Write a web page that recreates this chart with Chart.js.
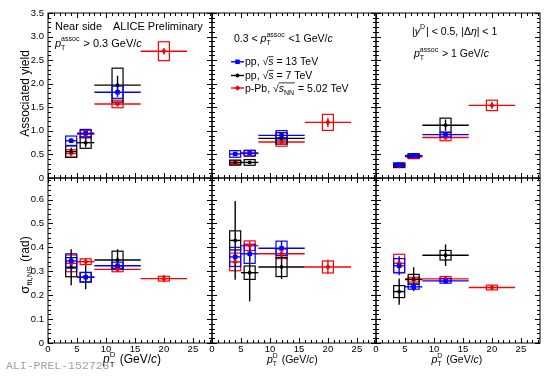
<!DOCTYPE html>
<html>
<head>
<meta charset="utf-8">
<script src="https://cdn.jsdelivr.net/npm/chart.js@4.4.1/dist/chart.umd.min.js"></script>
<style>
  html, body { margin: 0; padding: 0; background: #fff; }
</style>
</head>
<body>
<canvas id="chart" width="550" height="377"></canvas>
<script>
// D-meson pT bins (GeV/c)
const ptCenters = [4, 6.5, 12, 20];
const ptLow = [3, 5, 8, 16];
const ptHigh = [5, 8, 16, 24];
const boxHalfWidth = 0.95;

// one row per pT(assoc) range: > 0.3, 0.3-1, > 1 GeV/c
const yieldPp13 = [[0.79, 0.95, 1.82], [0.51, 0.53, 0.905], [0.28, 0.475, 0.92]];
const yieldPp13Stat = [[0.05, 0.05, 0.1], [0.04, 0.04, 0.06], [0.02, 0.02, 0.04]];
const yieldPp13Syst = [[0.1, 0.08, 0.13], [0.07, 0.06, 0.1], [0.04, 0.04, 0.05]];

const yieldPp7 = [[0.56, 0.75, 1.97], [0.33, 0.33, 0.84], [0.27, 0.47, 1.12]];
const yieldPp7Stat = [[0.08, 0.1, 0.2], [0.03, 0.03, 0.06], [0.02, 0.03, 0.12]];
const yieldPp7Syst = [[0.12, 0.12, 0.36], [0.05, 0.06, 0.12], [0.04, 0.04, 0.15]];

const yieldPPb = [[0.52, 0.93, 1.57, 2.69], [0.32, 0.52, 0.765, 1.18], [0.26, 0.45, 0.86, 1.54]];
const yieldPPbStat = [[0.04, 0.05, 0.05, 0.07], [0.02, 0.03, 0.05, 0.1], [0.02, 0.02, 0.04, 0.07]];
const yieldPPbSyst = [[0.08, 0.08, 0.08, 0.2], [0.05, 0.06, 0.09, 0.17], [0.04, 0.04, 0.07, 0.11]];

const sigmaPp13 = [[0.343, 0.275, 0.323], [0.36, 0.373, 0.396], [0.323, 0.235, 0.26]];
const sigmaPp13Stat = [[0.02, 0.015, 0.015], [0.03, 0.03, 0.03], [0.04, 0.01, 0.01]];
const sigmaPp13Syst = [[0.03, 0.02, 0.015], [0.04, 0.04, 0.03], [0.03, 0.01, 0.01]];

const sigmaPp7 = [[0.317, 0.275, 0.347], [0.429, 0.294, 0.318], [0.215, 0.267, 0.367]];
const sigmaPp7Stat = [[0.075, 0.05, 0.045], [0.165, 0.12, 0.05], [0.055, 0.05, 0.045]];
const sigmaPp7Syst = [[0.04, 0.02, 0.037], [0.04, 0.028, 0.04], [0.025, 0.02, 0.02]];

const sigmaPPb = [[0.333, 0.34, 0.308, 0.269], [0.339, 0.407, 0.373, 0.318], [0.333, 0.265, 0.268, 0.232]];
const sigmaPPbStat = [[0.02, 0.015, 0.01, 0.015], [0.02, 0.02, 0.02, 0.03], [0.02, 0.01, 0.01, 0.01]];
const sigmaPPbSyst = [[0.035, 0.012, 0.01, 0.01], [0.037, 0.02, 0.02, 0.025], [0.038, 0.01, 0.01, 0.01]];

const series = [
  { color: "#0000ff", style: "rect", radius: 3.2,
    yield: [yieldPp13, yieldPp13Stat, yieldPp13Syst], sigma: [sigmaPp13, sigmaPp13Stat, sigmaPp13Syst] },
  { color: "#000000", style: "circle", radius: 1.9,
    yield: [yieldPp7, yieldPp7Stat, yieldPp7Syst], sigma: [sigmaPp7, sigmaPp7Stat, sigmaPp7Syst] },
  { color: "#ff0000", style: "rectRot", radius: 2.8,
    yield: [yieldPPb, yieldPPbStat, yieldPPbSyst], sigma: [sigmaPPb, sigmaPPbStat, sigmaPPbSyst] }
];

const FONT = '"Liberation Sans", Arial, sans-serif';

const datasets = [];
for (let p = 0; p < 3; p++) {
  for (const row of ["yield", "sigma"]) {
    for (const s of series) {
      const [vals, stat, syst] = s[row];
      datasets.push({
        xAxisID: "x" + (p + 1),
        yAxisID: row === "yield" ? "yTop" : "yBot",
        data: vals[p].map((y, i) => ({ x: ptCenters[i], y })),
        stat: stat[p], syst: syst[p], color: s.color,
        pointStyle: s.style, pointRadius: s.radius,
        backgroundColor: s.color, borderColor: s.color, borderWidth: 0,
        showLine: false
      });
    }
  }
}

function line(ctx, x0, y0, x1, y1) {
  ctx.beginPath(); ctx.moveTo(x0, y0); ctx.lineTo(x1, y1); ctx.stroke();
}

// draw text made of pieces; {t, s, i, dy} or {sub, sup, s}
function rich(ctx, x, y, parts, measureOnly) {
  let cx = x;
  for (const p of parts) {
    if (p.sub !== undefined || p.sup !== undefined) {
      ctx.font = `${p.s}px ${FONT}`;
      let w = 0;
      if (p.sub) { if (!measureOnly) ctx.fillText(p.sub, cx, y + p.s * 0.45); w = Math.max(w, ctx.measureText(p.sub).width); }
      if (p.sup) { if (!measureOnly) ctx.fillText(p.sup, cx, y - p.s * 0.75); w = Math.max(w, ctx.measureText(p.sup).width); }
      cx += w + 1;
    } else {
      ctx.font = `${p.i ? "italic " : ""}${p.s}px ${FONT}`;
      if (!measureOnly) ctx.fillText(p.t, cx, y + (p.dy || 0));
      if (p.over && !measureOnly) {
        ctx.save(); ctx.lineWidth = 0.8; ctx.strokeStyle = "#000";
        line(ctx, cx, y - p.s * 0.82, cx + ctx.measureText(p.t).width + (p.overExtra || 0), y - p.s * 0.82);
        ctx.restore();
      }
      cx += ctx.measureText(p.t).width;
    }
  }
  return cx - x;
}

const panelPlugin = {
  id: "panels",
  beforeDatasetsDraw(chart) {
    const ctx = chart.ctx;
    for (let i = chart.data.datasets.length - 1; i >= 0; i--) {
      const ds = chart.data.datasets[i];
      const meta = chart.getDatasetMeta(i);
      const xs = meta.xScale, ys = meta.yScale;
      ctx.save();
      ctx.strokeStyle = ds.color;
      ctx.lineWidth = 1.4;
      ds.data.forEach((pt, k) => {
        const px = xs.getPixelForValue(pt.x), py = ys.getPixelForValue(pt.y);
        line(ctx, xs.getPixelForValue(ptLow[k]), py, xs.getPixelForValue(ptHigh[k]), py);
        line(ctx, px, ys.getPixelForValue(pt.y - ds.stat[k]), px, ys.getPixelForValue(pt.y + ds.stat[k]));
        const x0 = xs.getPixelForValue(pt.x - boxHalfWidth), x1 = xs.getPixelForValue(pt.x + boxHalfWidth);
        const y0 = ys.getPixelForValue(pt.y + ds.syst[k]), y1 = ys.getPixelForValue(pt.y - ds.syst[k]);
        ctx.lineWidth = 1.2;
        ctx.strokeRect(x0, y0, x1 - x0, y1 - y0);
        ctx.lineWidth = 1.4;
      });
      ctx.restore();
    }
  },
  afterDraw(chart) {
    const ctx = chart.ctx;
    ctx.save();
    ctx.strokeStyle = "#000";
    ctx.fillStyle = "#000";
    ctx.lineWidth = 1;
    const rows = [
      { s: chart.scales.yTop, step: 0.1, major: 5 },
      { s: chart.scales.yBot, step: 0.02, major: 5 }
    ];
    for (const xid of ["x1", "x2", "x3"]) {
      const xs = chart.scales[xid];
      for (const r of rows) {
        const ys = r.s;
        ctx.strokeRect(xs.left, ys.top, xs.right - xs.left, ys.bottom - ys.top);
        for (let v = 0; v <= xs.max + 1e-6; v += 1) {
          const px = Math.round(xs.getPixelForValue(v)) + 0.5;
          const len = v % 5 === 0 ? 5 : 3;
          line(ctx, px, ys.bottom, px, ys.bottom - len);
          line(ctx, px, ys.top, px, ys.top + len);
        }
        const n = Math.floor(ys.max / r.step + 1e-6);
        for (let k = 0; k <= n; k++) {
          const py = Math.round(ys.getPixelForValue(k * r.step)) + 0.5;
          const len = k % r.major === 0 ? 5 : 3;
          line(ctx, xs.left, py, xs.left + len, py);
          line(ctx, xs.right, py, xs.right - len, py);
        }
      }
    }

    ctx.textAlign = "left";
    ctx.textBaseline = "alphabetic";
    // panel 1 labels
    rich(ctx, 55, 30, [{ t: "Near side", s: 11 }]);
    rich(ctx, 113, 30, [{ t: "ALICE Preliminary", s: 11 }]);
    rich(ctx, 55, 46.5, [{ t: "p", s: 11, i: true }, { sub: "T", sup: "assoc", s: 7 }, { t: " > 0.3 GeV/", s: 11 }, { t: "c", s: 11, i: true }]);
    // panel 2 labels
    rich(ctx, 234, 42, [{ t: "0.3 < ", s: 10.5 }, { t: "p", s: 10.5, i: true }, { sub: "T", sup: "assoc", s: 7 }, { t: " <1 GeV/", s: 10.5 }, { t: "c", s: 10.5, i: true }]);
    const legendRows = [
      [{ t: "pp, \u221A", s: 10.5 }, { t: "s", s: 10.5, i: true, over: true }, { t: " = 13 TeV", s: 10.5 }],
      [{ t: "pp, \u221A", s: 10.5 }, { t: "s", s: 10.5, i: true, over: true }, { t: " = 7 TeV", s: 10.5 }],
      [{ t: "p-Pb, \u221A", s: 10.5 }, { t: "s", s: 10.5, i: true, over: true, overExtra: 11 }, { sub: "NN", s: 7 }, { t: " = 5.02 TeV", s: 10.5 }]
    ];
    const legendY = [65.3, 79, 91.5];
    series.forEach((s, k) => {
      const y = legendY[k];
      ctx.strokeStyle = s.color; ctx.fillStyle = s.color; ctx.lineWidth = 1.4;
      line(ctx, 231, y - 3.5, 244, y - 3.5);
      Chart.helpers.drawPoint(ctx, { pointStyle: s.style, radius: s.radius, borderWidth: 0 }, 237.5, y - 3.5);
      ctx.fillStyle = "#000"; ctx.strokeStyle = "#000";
      rich(ctx, 245, y, legendRows[k]);
    });
    // panel 3 labels
    rich(ctx, 412, 34.5, [{ t: "|", s: 10.5 }, { t: "y", s: 10.5, i: true }, { sup: "D", s: 7 }, { t: "| < 0.5, |\u0394", s: 10.5 }, { t: "\u03B7", s: 10.5, i: true }, { t: "| < 1", s: 10.5 }]);
    rich(ctx, 414, 57, [{ t: "p", s: 10.5, i: true }, { sub: "T", sup: "assoc", s: 7 }, { t: " > 1 GeV/", s: 10.5 }, { t: "c", s: 10.5, i: true }]);

    // x titles
    const xTitle = (x, size) => rich(ctx, x, 363, [{ t: "p", s: size, i: true }, { sub: "T", sup: "D", s: size * 0.65 }, { t: " (GeV/", s: size }, { t: "c", s: size, i: true }, { t: ")", s: size }]);
    xTitle(103, 12);
    xTitle(267, 10.5);
    xTitle(431.5, 10.5);

    // y titles
    const yTitle = (cy, parts) => {
      ctx.save();
      ctx.translate(28.5, cy);
      ctx.rotate(-Math.PI / 2);
      const w = rich(ctx, 0, 0, parts, true);
      rich(ctx, -w / 2, 0, parts);
      ctx.restore();
    };
    yTitle(93.5, [{ t: "Associated yield", s: 12 }]);
    yTitle(265, [{ t: "\u03C3", s: 13 }, { sub: "fit,NS", s: 8 }, { t: " (rad)", s: 12 }]);

    ctx.font = '11.5px "Liberation Mono", monospace';
    ctx.fillStyle = "#a0a0a0";
    ctx.fillText("ALI-PREL-152728", 6, 368.5);
    ctx.restore();
  }
};

const tickFont = { family: FONT, size: 9.5 };
function xAxis() {
  return {
    type: "linear", position: "bottom", stack: "cols", stackWeight: 1,
    min: 0, max: 28.3,
    grid: { display: false, drawTicks: false }, border: { display: false },
    ticks: { stepSize: 5, includeBounds: false, autoSkip: false, maxRotation: 0, padding: 1, color: "#000", font: tickFont },
    afterFit(s) { s.height = 34; }
  };
}
function yAxis(max, step, weight) {
  return {
    type: "linear", position: "left", stack: "rows", stackWeight: 1, weight,
    min: 0, max,
    grid: { display: false, drawTicks: false }, border: { display: false },
    ticks: { stepSize: step, includeBounds: false, autoSkip: false, padding: 4, color: "#000", font: tickFont },
    afterFit(s) { s.width = 48; }
  };
}

new Chart(document.getElementById("chart"), {
  type: "scatter",
  data: { datasets },
  options: {
    responsive: false,
    animation: false,
    devicePixelRatio: 1,
    events: [],
    layout: { padding: { left: 0, top: 13, right: 10, bottom: 0 } },
    plugins: { legend: { display: false }, tooltip: { enabled: false } },
    scales: {
      x1: xAxis(), x2: xAxis(), x3: xAxis(),
      yTop: yAxis(3.5, 0.5, 2),
      yBot: yAxis(0.69, 0.1, 1)
    }
  },
  plugins: [panelPlugin]
});
</script>
</body>
</html>
